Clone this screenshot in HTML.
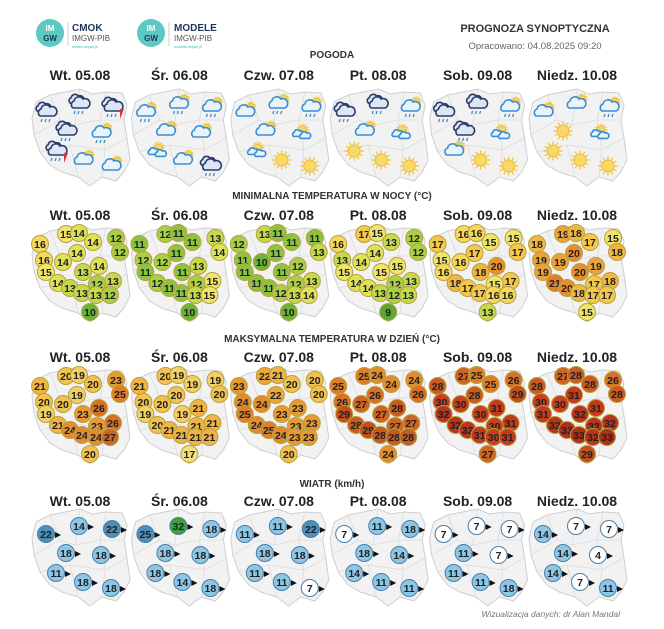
<!DOCTYPE html>
<html><head><meta charset="utf-8">
<style>
html,body{margin:0;padding:0;background:#fff;}
svg{display:block;font-family:"Liberation Sans",sans-serif;}
</style></head>
<body>
<svg id="c" width="664" height="629" viewBox="0 0 664 629" xmlns="http://www.w3.org/2000/svg">
  <g>
    <circle cx="50" cy="33" r="14" fill="#5ec9c2"/>
    <text x="50" y="31" font-size="8" font-weight="bold" fill="#fff" text-anchor="middle">IM</text>
    <text x="50" y="41" font-size="8" font-weight="bold" fill="#1d3557" text-anchor="middle">GW</text>
    <line x1="68" y1="22" x2="68" y2="46" stroke="#ccc"/>
    <text x="72" y="31" font-size="10" font-weight="bold" fill="#1d3557">CMOK</text>
    <text x="72" y="41" font-size="8" fill="#555">IMGW-PIB</text>
    <text x="72" y="48" font-size="4" fill="#3bb">meteo.imgw.pl</text>
    <circle cx="151" cy="33" r="14" fill="#5ec9c2"/>
    <text x="151" y="31" font-size="8" font-weight="bold" fill="#fff" text-anchor="middle">IM</text>
    <text x="151" y="41" font-size="8" font-weight="bold" fill="#1d3557" text-anchor="middle">GW</text>
    <line x1="169" y1="22" x2="169" y2="46" stroke="#ccc"/>
    <text x="174" y="31" font-size="10" font-weight="bold" fill="#1d3557">MODELE</text>
    <text x="174" y="41" font-size="8" fill="#555">IMGW-PIB</text>
    <text x="174" y="48" font-size="4" fill="#3bb">modele.imgw.pl</text>
    <text x="535" y="32" font-size="11" font-weight="bold" fill="#333" text-anchor="middle">PROGNOZA SYNOPTYCZNA</text>
    <text x="535" y="49" font-size="9.5" fill="#666" text-anchor="middle">Opracowano: 04.08.2025 09:20</text>
  </g>
  <text x="620" y="617" font-size="8.5" font-style="italic" fill="#777" text-anchor="end">Wizualizacja danych: dr Alan Mandal</text>
</svg>
<script>
const days = ["Wt. 05.08","Śr. 06.08","Czw. 07.08","Pt. 08.08","Sob. 09.08","Niedz. 10.08"];
const minTemp = [
 [15,14,16,14,12,12,14,16,14,14,15,13,13,12,14,13,13,13,12,10],
 [12,11,11,11,13,14,11,12,12,13,11,11,15,12,12,11,11,13,15,10],
 [13,11,12,11,11,13,11,11,10,12,11,11,13,12,11,11,12,13,14,10],
 [17,15,16,13,12,12,14,13,14,15,15,15,13,12,14,14,13,12,13,9],
 [16,16,17,15,15,17,17,15,16,20,16,18,17,15,18,17,17,16,16,13],
 [19,18,18,17,15,18,20,19,19,19,19,20,18,17,21,20,18,17,17,15]];
const maxTemp = [
 [20,19,21,20,23,25,19,20,20,26,19,23,26,23,21,24,24,24,27,20],
 [20,19,21,19,19,20,20,20,20,21,19,19,21,21,20,21,21,21,21,17],
 [22,21,23,20,20,20,22,24,24,23,25,23,23,23,24,25,24,23,23,20],
 [25,24,25,24,24,26,26,26,27,28,29,27,27,27,28,29,28,28,28,24],
 [27,25,28,25,26,29,28,30,30,31,32,30,31,30,32,32,31,30,31,27],
 [27,28,28,28,26,28,31,30,30,31,31,32,32,32,32,33,33,32,33,29]];
const wind = [
 [22,14,22,18,18,11,18,18],
 [25,32,18,18,18,18,14,18],
 [11,11,22,18,18,11,11,7],
 [7,11,18,18,14,14,11,11],
 [7,7,7,11,7,11,11,18],
 [14,7,7,14,4,14,7,11]];
const weather = [
 ["d","d","t","d","r","t","c","c"],
 ["r","r","r","c","c","p","c","d"],
 ["c","r","r","c","p","p","s","s"],
 ["d","d","r","c","p","s","s","s"],
 ["d","d","r","d","p","c","s","s"],
 ["c","c","r","s","p","s","s","s"]];

const NS="http://www.w3.org/2000/svg";
const svg=document.getElementById('c');
function mk(tag,attrs,parent){const e=document.createElementNS(NS,tag);for(const k in attrs)e.setAttribute(k,attrs[k]);(parent||svg).appendChild(e);return e;}
const colX=i=>80+i*99.4;
const tSt=[[-14,19],[-1,18],[-40,29],[13,27],[36,23],[40,37],[-3,38],[-36,45],[-17,47],[19,51],[-34,57],[3,57],[33,66],[17,69],[-22,68],[-10,73],[2,78],[16,80],[30,80],[10,97]];
const wSt=[[-34,32],[-1,24],[32,27],[-14,51],[21,53],[-24,71],[3,80],[31,86]];
const poly=[[-44,22],[-30,15],[-15,12],[0,9],[12,14],[26,12],[42,13],[47,25],[44,40],[47,58],[50,80],[44,92],[36,101],[22,97],[10,106],[-2,97],[-18,92],[-30,85],[-40,72],[-46,55],[-48,38]];
function drawMap(g,cx,hy){
  mk('polygon',{points:poly.map(p=>(cx+p[0])+','+(hy+p[1])).join(' '),fill:'#f2f2f2',stroke:'#cfcfcf','stroke-width':1},g);
  const lines=[[[-30,15],[-20,40],[-46,55]],[[0,9],[-5,45],[-20,40]],[[26,12],[20,40],[44,40]],[[-5,45],[20,40],[25,70],[47,58]],[[-40,72],[-10,65],[-2,97]],[[-10,65],[25,70],[22,97]]];
  lines.forEach(l=>mk('polyline',{points:l.map(p=>(cx+p[0])+','+(hy+p[1])).join(' '),fill:'none',stroke:'#dcdcdc','stroke-width':0.8},g));
}
function minColor(v){const m={9:'#5aa832',10:'#6cb33c',11:'#8dc43f',12:'#a9cf46',13:'#c4d94c',14:'#dee257',15:'#efe56a',16:'#f5d85c',17:'#f3c84c',18:'#efb642',19:'#eba23a',20:'#e78f30',21:'#e0802a'};return m[Math.max(9,Math.min(21,v))];}
function maxColor(v){const m={17:'#f2e07c',18:'#f4d870',19:'#f3d066',20:'#f1c250',21:'#efb442',22:'#eba737',23:'#e89a32',24:'#e38c2d',25:'#dd7e29',26:'#d77126',27:'#d06523',28:'#c95a20',29:'#c24e1e',30:'#c8401f',31:'#c43a1d',32:'#b8341c',33:'#ae2f1b'};return m[Math.max(17,Math.min(33,v))];}
function windColor(v){if(v>=30)return'#3da03a';if(v>=20)return'#4c8fbc';if(v>=10)return'#8ec6e6';return'#ffffff';}
function section(title,ty,hy,name){
  const t=mk('text',{x:332,y:ty,'font-size':10,'font-weight':'bold',fill:'#333','text-anchor':'middle'});
  
  
  t.textContent=title;
  days.forEach((d,i)=>{const h=mk('text',{x:colX(i),y:hy,'font-size':14,'font-weight':'bold',fill:'#222','text-anchor':'middle'});
    
    
    h.textContent=d;});
}
function circ(g,x,y,v,fill,stroke,name){
  const c=mk('circle',{cx:x,cy:y,r:8.5,fill:fill,stroke:stroke,'stroke-width':1},g);
  
  
  const t=mk('text',{x:x,y:y+3.8,'font-size':10.5,'font-weight':'bold',fill:'#222','text-anchor':'middle'},g);
  t.textContent=v;
}
[[minTemp,'MINIMALNA TEMPERATURA W NOCY (°C)',199,222,minColor,'min-temp'],[maxTemp,'MAKSYMALNA TEMPERATURA W DZIEŃ (°C)',342,364,maxColor,'max-temp']].forEach(([data,title,ty,hy,col,name])=>{
  section(title,ty,hy-2,name);
  data.forEach((vals,i)=>{
    const g=mk('g',{});
    
    
    const cx=colX(i);drawMap(g,cx,hy-6);
    vals.forEach((v,k)=>circ(g,cx+tSt[k][0],hy-7+tSt[k][1],v,col(v),'#b8a040',name+'-station'));
  });
});
section('WIATR (km/h)',487,506,'wind');
wind.forEach((vals,i)=>{
  const g=mk('g',{});
  
  
  const cx=colX(i);drawMap(g,cx,500);
  vals.forEach((v,k)=>{const x=cx+wSt[k][0],y=502+wSt[k][1];
    mk('polygon',{points:(x+9)+','+(y-2)+' '+(x+15)+','+(y+1)+' '+(x+9)+','+(y+4),fill:'#111'},g);
    circ(g,x,y,v,windColor(v),'#4a7fa8','wind-station');});
});
section('POGODA',58,80,'weather');
function cloud(g,x,y,s,fill,stroke){
  mk('path',{d:`M${x-7*s},${y+4*s} a${4*s},${4*s} 0 0 1 ${1*s},${-7*s} a${5*s},${5*s} 0 0 1 ${9*s},${-2*s} a${4*s},${4*s} 0 0 1 ${4*s},${9*s} z`,fill:fill,stroke:stroke,'stroke-width':1.6},g);
}
function sun(g,x,y,r){
  for(let a=0;a<12;a++){const an=a*Math.PI/6;mk('line',{x1:x+Math.cos(an)*r*1.1,y1:y+Math.sin(an)*r*1.1,x2:x+Math.cos(an)*r*1.6,y2:y+Math.sin(an)*r*1.6,stroke:'#f2c744','stroke-width':1.4},g);}
  mk('circle',{cx:x,cy:y,r:r,fill:'#f7d96a',stroke:'#eebb33','stroke-width':1},g);
}
function rain(g,x,y){[-4,0,4].forEach(d=>mk('line',{x1:x+d,y1:y+7,x2:x+d-1,y2:y+10,stroke:'#3b8fd0','stroke-width':1.3},g));}
weather.forEach((vals,i)=>{
  const g=mk('g',{});
  
  
  const cx=colX(i);drawMap(g,cx,80);
  vals.forEach((v,k)=>{const x=cx+wSt[k][0],y=80+wSt[k][1];
    const ig=mk('g',{},g);
    
    
    if(v==='s'){sun(ig,x,y,6);}
    else if(v==='p'){sun(ig,x+3,y-3,4);cloud(ig,x-2,y+1,0.6,'#e8f2fa','#3b8fd0');cloud(ig,x+5,y+3,0.6,'#e8f2fa','#3b8fd0');}
    else if(v==='c'){sun(ig,x+6,y-5,3.5);cloud(ig,x,y,1,'#eaf3fb','#3b8fd0');}
    else if(v==='r'){sun(ig,x+6,y-5,3.5);cloud(ig,x,y,1,'#eaf3fb','#3b8fd0');rain(ig,x,y);}
    else {cloud(ig,x-3,y-4,0.8,'#dde6f2','#2a3d6b');cloud(ig,x+1,y,1,'#dde6f2','#2a3d6b');rain(ig,x,y);
      if(v==='t')mk('polygon',{points:(x+8)+','+(y+2)+' '+(x+12)+','+(y+2)+' '+(x+8)+','+(y+12),fill:'#e03030'},ig);}
  });
});
</script>
</body></html>
